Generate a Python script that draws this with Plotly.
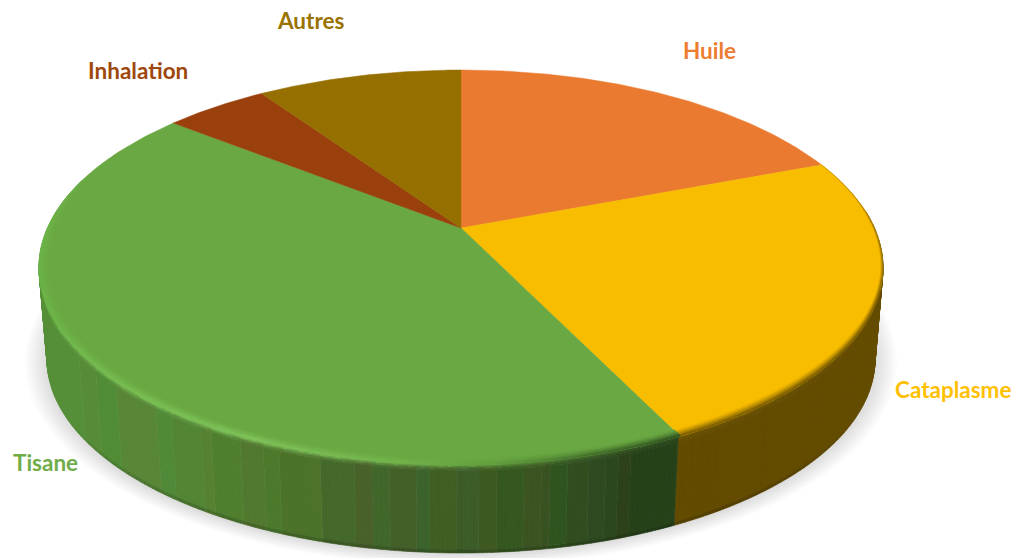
import numpy as np
import plotly.graph_objects as go

# ---------- data ----------
categories = ["Huile", "Cataplasme", "Tisane", "Inhalation", "Autres"]
values = [19.2, 23.65, 42.85, 4.8, 9.5]
top_colors = ["#ea7a30", "#f9bd00", "#6aa843", "#9a400c", "#957000"]
label_colors = ["#ed7d31", "#ffc000", "#70ad47", "#9e480e", "#997300"]

# ---------- styling / layout constants ----------
label_x = [709, 953, 45, 138, 311]
label_y = [50, 389, 462, 70, 20]
W, H = 1022, 558
CX, CY = 461.0, 228.0          # apex of the pie on the page
A, B, K = 413.5, 189.6, 0.2    # perspective of the tilted disc
LOW_SCALE, LOW_DY = 0.981, 92.5  # lower disc of the extrusion
RING = 0.975                   # inner radius of the bevel

# side shading of the Tisane slice: (right edge in px, colour)
tisane_side_bands = [
    (78, "#558f38"), (95, "#578c37"), (115, "#518c36"), (155, "#578737"),
    (170, "#508937"), (200, "#538535"), (212, "#568232"), (240, "#4f7f2f"),
    (262, "#52792f"), (280, "#4c7a2d"), (318, "#4d732b"), (355, "#45682b"),
    (372, "#49622a"), (388, "#41672a"), (416, "#446029"), (428, "#3c632c"),
    (458, "#415e24"), (478, "#3c5c28"), (498, "#3e5a21"), (525, "#355820"),
    (540, "#3b5421"), (550, "#395222"), (568, "#305420"), (590, "#324e20"),
    (605, "#2f4a20"), (620, "#2b481c"), (632, "#2d411a"), (700, "#264219"),
]
CATA_SIDE = "#634b00"
tisane_edge_x = [40, 100, 250, 400, 500, 600, 690]
tisane_edge_c = ["#6cb548", "#78c052", "#82c85e", "#74b54c", "#5f9a3c", "#3a6326", "#264219"]


def rgb(h):
    return np.array([int(h[i:i + 2], 16) for i in (1, 3, 5)], float)


def hexc(c):
    return "#%02x%02x%02x" % tuple(int(round(v)) for v in np.clip(c, 0, 255))


def mix(c1, c2, t):
    return c1 * (1 - t) + c2 * t


def top_pt(th, r=1.0):
    u, v = r * np.sin(th), r * np.cos(th)
    w = 1 + K * v
    return CX + A * u / w, CY - B * v / w


def low_pt(th, r=1.0):
    x, y = top_pt(th, r)
    return CX + LOW_SCALE * (x - CX), CY + LOW_DY + LOW_SCALE * (y - CY)


def smooth(a, b, x):
    t = np.clip((x - a) / (b - a), 0, 1)
    return t * t * (3 - 2 * t)


fig = go.Figure()


class Layer:
    """Polygons of one drawing layer, grouped by colour into one trace each."""

    def __init__(self):
        self.g = {}

    def add(self, pts, color):
        d = self.g.setdefault(color, ([], []))
        for x, y in pts + [pts[0]]:
            d[0].append(x)
            d[1].append(y)
        d[0].append(None)
        d[1].append(None)

    def flush(self, width=0.6):
        for c, (xs, ys) in self.g.items():
            fig.add_trace(go.Scatter(x=xs, y=ys, mode="lines", fill="toself", fillcolor=c,
                                     line=dict(color=c, width=width), hoverinfo="skip",
                                     showlegend=False))


# slice boundaries come from the values
shares = np.array(values, float) / sum(values)
edges = np.concatenate([[0], np.cumsum(shares)]) * 2 * np.pi

# ---------- soft shadow ----------
ts = np.radians(np.arange(0, 361, 3))
for grow in range(22, 0, -2):
    xs, ys = [], []
    for t in ts:
        x, y = low_pt(t)
        xs.append(CX + (x - CX) * (1 + grow / 414))
        ys.append(CY + LOW_DY + 1 + (y - CY - LOW_DY) * (1 + grow / 420))
    fig.add_trace(go.Scatter(x=xs, y=ys, mode="lines", fill="toself",
                             fillcolor="rgba(110,110,110,0.02)", line=dict(width=0),
                             hoverinfo="skip", showlegend=False))

# ---------- extruded side ----------
side = Layer()
step = np.radians(0.5)
cata_start, cata_end = edges[1], edges[2]
tis_end = edges[3]


def side_color(th, x):
    if th < cata_end:
        return rgb(CATA_SIDE)
    for right, c in tisane_side_bands:
        if x <= right:
            return rgb(c)
    return rgb(tisane_side_bands[-1][1])


def edge_color(th, x):
    if th < cata_end:
        return rgb("#6b5100"), smooth(np.radians(55), np.radians(100), th)
    if th < tis_end:
        c = [np.interp(x, tisane_edge_x, [rgb(s)[i] for s in tisane_edge_c]) for i in range(3)]
        return np.array(c), 1 - smooth(np.radians(262), np.radians(300), th)
    return None, 0


def bevel_width(th):
    """Share of the full bevel width at this angle; thin towards the right side."""
    if th < cata_end:
        return 0.22 + 0.78 * smooth(np.radians(95), np.radians(150), th)
    return 1.0


for th0 in np.arange(np.radians(85), np.radians(285), step):
    th1 = th0 + step
    tm = (th0 + th1) / 2
    xm, _ = top_pt(tm)
    sc = side_color(tm, xm)
    ec, es = edge_color(tm, xm)
    base_top = mix(sc, ec, es) if ec is not None else sc
    rim = smooth(-0.4, -0.85, np.cos(tm))   # dark foot only along the front
    cuts = [(0, .018, mix(base_top, sc, .15)), (.018, .036, mix(base_top, sc, .55)),
            (.036, .06, mix(base_top, sc, .85)), (.06, .965, sc),
            (.965, 1.0, sc * (1 - 0.15 * rim))]
    a0, a1 = np.array(top_pt(th0)), np.array(top_pt(th1))
    b0, b1 = np.array(low_pt(th0)), np.array(low_pt(th1))
    for t0, t1, col in cuts:
        p = [tuple(a0 + (b0 - a0) * t0), tuple(a1 + (b1 - a1) * t0),
             tuple(a1 + (b1 - a1) * t1), tuple(a0 + (b0 - a0) * t1)]
        side.add(p, hexc(col))
side.flush()

# ---------- flat top slices ----------
for i, name in enumerate(categories):
    th = np.linspace(edges[i], edges[i + 1], 120)
    xs = [CX] + [top_pt(t)[0] for t in th] + [CX]
    ys = [CY] + [top_pt(t)[1] for t in th] + [CY]
    fig.add_trace(go.Scatter(x=xs, y=ys, mode="lines", fill="toself", fillcolor=top_colors[i],
                             line=dict(color=top_colors[i], width=0.5), hoverinfo="skip",
                             name=name, showlegend=False))

# ---------- bevel on the front rim ----------
bevel = Layer()
nring = 5
for th0 in np.arange(cata_start, np.radians(305), step):
    th1 = th0 + step
    tm = (th0 + th1) / 2
    xm, _ = top_pt(tm)
    ec, es = edge_color(tm, xm)
    if ec is None or es < 0.03:
        continue
    base = rgb(top_colors[1] if tm < cata_end else top_colors[2])
    rr = 1 - (1 - RING) * bevel_width(tm) * (0.4 + 0.6 * es)
    for j in range(nring):
        r0 = rr + (1 - rr) * j / nring
        r1 = rr + (1 - rr) * (j + 1) / nring
        t = ((j + 0.5) / nring) ** 1.3
        col = mix(base, ec, t * es)
        p = [top_pt(th0, r0), top_pt(th1, r0), top_pt(th1, r1), top_pt(th0, r1)]
        bevel.add(p, hexc(col))
bevel.flush(width=0.4)

# ---------- labels ----------
for name, x, y, c in zip(categories, label_x, label_y, label_colors):
    fig.add_annotation(x=x, y=y, text="<b>%s</b>" % name, showarrow=False, xanchor="center",
                       yanchor="middle", font=dict(family="Lato", size=22.5, color=c))

fig.update_layout(width=W, height=H, margin=dict(l=0, r=0, t=0, b=0),
                  paper_bgcolor="white", plot_bgcolor="white", showlegend=False,
                  xaxis=dict(range=[0, W], visible=False, fixedrange=True),
                  yaxis=dict(range=[H, 0], visible=False, fixedrange=True))
fig.write_html("out.html", config={"displayModeBar": False},
               post_script="document.body.style.margin='0';document.body.style.overflow='hidden';")
